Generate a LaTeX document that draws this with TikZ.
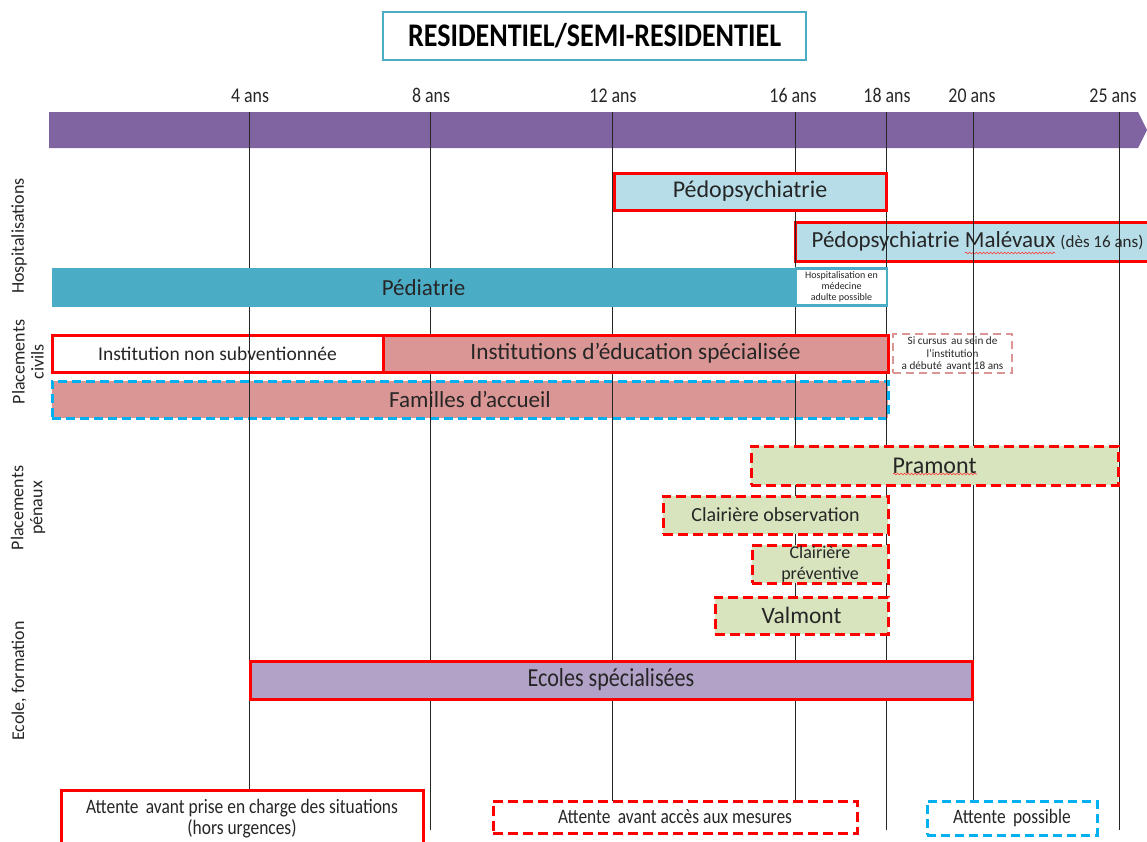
\documentclass[tikz,border=0pt]{standalone}
\usepackage{fontspec}
\setmainfont{Carlito}
\newfontfamily\narrowfont[FakeStretch=0.85]{Carlito}
\usepackage{xcolor}
\usetikzlibrary{arrows.meta,calc,positioning,decorations.pathmorphing}

\definecolor{barpurple}{HTML}{8064A2}
\definecolor{hosteal}{HTML}{4BACC6}
\definecolor{lightblue}{HTML}{B7DEE8}
\definecolor{rosebox}{HTML}{D99694}
\definecolor{lightgreen}{HTML}{D7E4BD}
\definecolor{lavender}{HTML}{B3A2C7}
\definecolor{skyblue}{HTML}{00B0F0}

\tikzset{
  box/.style={minimum height=38pt,inner sep=0pt,align=center,text=black!85,font=\fontsize{23}{26}\selectfont},
  redbox/.style={box,draw=red,line width=3pt},
  reddashbox/.style={box,draw=red,line width=3pt,dash pattern=on 10pt off 5pt},
  bluedashbox/.style={box,draw=skyblue,line width=3pt,dash pattern=on 9pt off 5pt},
  agelabel/.style={anchor=base,text=black!85,font=\narrowfont\fontsize{21}{24}\selectfont},
  sidelabel/.style={rotate=90,align=center,text=black!85,font=\fontsize{18}{19}\selectfont},
  ageline/.style={black!85,line width=0.9pt},
  waitbox/.style={font=\narrowfont\fontsize{20.5}{21}\selectfont},
  spellmark/.style={red!80,line width=0.6pt,decorate,decoration={snake,amplitude=0.9pt,segment length=3.5pt}}
}

\begin{document}
\begin{tikzpicture}[x=1pt,y=-1pt]
\useasboundingbox (0,0) rectangle (1147,841);

% title
\node[draw=hosteal,line width=2.5pt,fill=white,minimum width=423pt,minimum height=48pt,
      font=\narrowfont\bfseries\fontsize{33}{36}\selectfont] (title) at (594.5,36) {RESIDENTIEL/SEMI-RESIDENTIEL};

% age axis
\fill[barpurple] (49,112) -- (1138,112) -- (1147,130) -- (1138,148) -- (49,148) -- cycle;
\node[agelabel] (l4)  at (250,102)  {4 ans};
\node[agelabel] (l8)  at (431,102)  {8 ans};
\node[agelabel] (l12) at (613,102)  {12 ans};
\node[agelabel] (l16) at (793,102)  {16 ans};
\node[agelabel] (l18) at (887,102)  {18 ans};
\node[agelabel] (l20) at (972,102)  {20 ans};
\node[agelabel] (l25) at (1113,102) {25 ans};

% side labels
\node[sidelabel] (shosp) at (19,236) {Hospitalisations};
\node[sidelabel] (sciv)  at (28,362) {Placements\\civils};
\node[sidelabel] (spen)  at (28,508) {Placements\\pénaux};
\node[sidelabel] (secol) at (19,681) {Ecole, formation};

% boxes lying under the age lines
\node[redbox,fill=lightblue,minimum width=365pt,minimum height=39pt] (malev) at (977.5,241.5)
  {Pédopsychiatrie Malévaux {\fontsize{17}{19}\selectfont(dès 16 ans)}};
\draw[spellmark] (965,253) -- (1055,253);
\node[redbox,fill=white,minimum width=331pt,minimum height=37pt,font=\fontsize{19.5}{22}\selectfont] (instnon) at (217.5,353.5)
  {Institution non subventionnée};
\node[bluedashbox,fill=rosebox,minimum width=836pt,minimum height=37pt] (famil) at (470,399.5)
  {Familles d’accueil};
\node[box,draw=rosebox,line width=2pt,dash pattern=on 8pt off 5pt,minimum width=119pt,minimum height=39pt,
      font=\fontsize{11.2}{12.4}\selectfont] (cursus) at (952.5,353.5)
  {Si cursus\, au sein de\\l’institution\\a débuté\, avant 18 ans};

% age lines
\coordinate (a4)  at (249,112);  \coordinate (e4)  at (249,790);
\coordinate (a8)  at (430,112);  \coordinate (e8)  at (430,830);
\coordinate (a12) at (612,112);  \coordinate (e12) at (612,801);
\coordinate (a16) at (795,112);  \coordinate (e16) at (795,801);
\coordinate (a18) at (886,112);  \coordinate (e18) at (886,830);
\coordinate (a20) at (973,112);  \coordinate (e20) at (973,801);
\coordinate (a25) at (1119,112); \coordinate (e25) at (1119,830);
\foreach \t in {4,8,12,16,18,20,25}
  \draw[ageline] (a\t) -- (e\t);

% hospitalisations
\node[redbox,fill=lightblue,minimum width=272pt,minimum height=37pt,font=\fontsize{24}{27}\selectfont] (pedo) at (750,191.5) {Pédopsychiatrie};
\node[box,fill=hosteal,minimum width=743pt,minimum height=39pt] (pedia) at (423.5,287.5) {Pédiatrie};
\node[box,draw=hosteal,line width=2.5pt,fill=white,minimum width=91pt,minimum height=37pt,
      font=\fontsize{10}{11.2}\selectfont] (hosad) at (841.5,287) {Hospitalisation en\\médecine\\adulte possible};

% placements civils
\node[redbox,fill=rosebox,minimum width=505pt,minimum height=37pt,font=\fontsize{23.3}{26}\selectfont] (instedu) at (635.5,353.5)
  {Institutions d’éducation spécialisée};

% placements penaux
\node[reddashbox,fill=lightgreen,minimum width=367pt,minimum height=39pt,font=\fontsize{24}{27}\selectfont] (pram) at (934.5,465.5) {Pramont};
\draw[spellmark] (893,474) -- (977,474);
\node[reddashbox,fill=lightgreen,minimum width=225pt,minimum height=38pt,font=\fontsize{20}{23}\selectfont] (clobs) at (775.5,515)
  {Clairière observation};
\node[reddashbox,fill=lightgreen,minimum width=136pt,minimum height=38pt,font=\fontsize{18}{21}\selectfont] (clprev) at (820,564)
  {Clairière\\préventive};
\node[reddashbox,fill=lightgreen,minimum width=173pt,minimum height=37pt,font=\fontsize{23.5}{26}\selectfont] (valm) at (801.5,615.5)
  {Valmont};

% ecole
\node[redbox,fill=lavender,minimum width=722pt,minimum height=38pt,font=\narrowfont\fontsize{26}{28}\selectfont] (ecol) at (611,680)
  {Ecoles spécialisées};

% attentes
\node[redbox,waitbox,fill=white,minimum width=362pt,minimum height=57pt] (attpc) at (242,818.5)
  {Attente\, avant prise en charge des situations\\(hors urgences)};
\node[reddashbox,waitbox,fill=white,minimum width=364pt,minimum height=32pt] (attmes) at (675,817)
  {Attente\, avant accès aux mesures};
\node[bluedashbox,waitbox,fill=white,minimum width=170pt,minimum height=34pt] (attpos) at (1012,818)
  {Attente\, possible};
\end{tikzpicture}
\end{document}
